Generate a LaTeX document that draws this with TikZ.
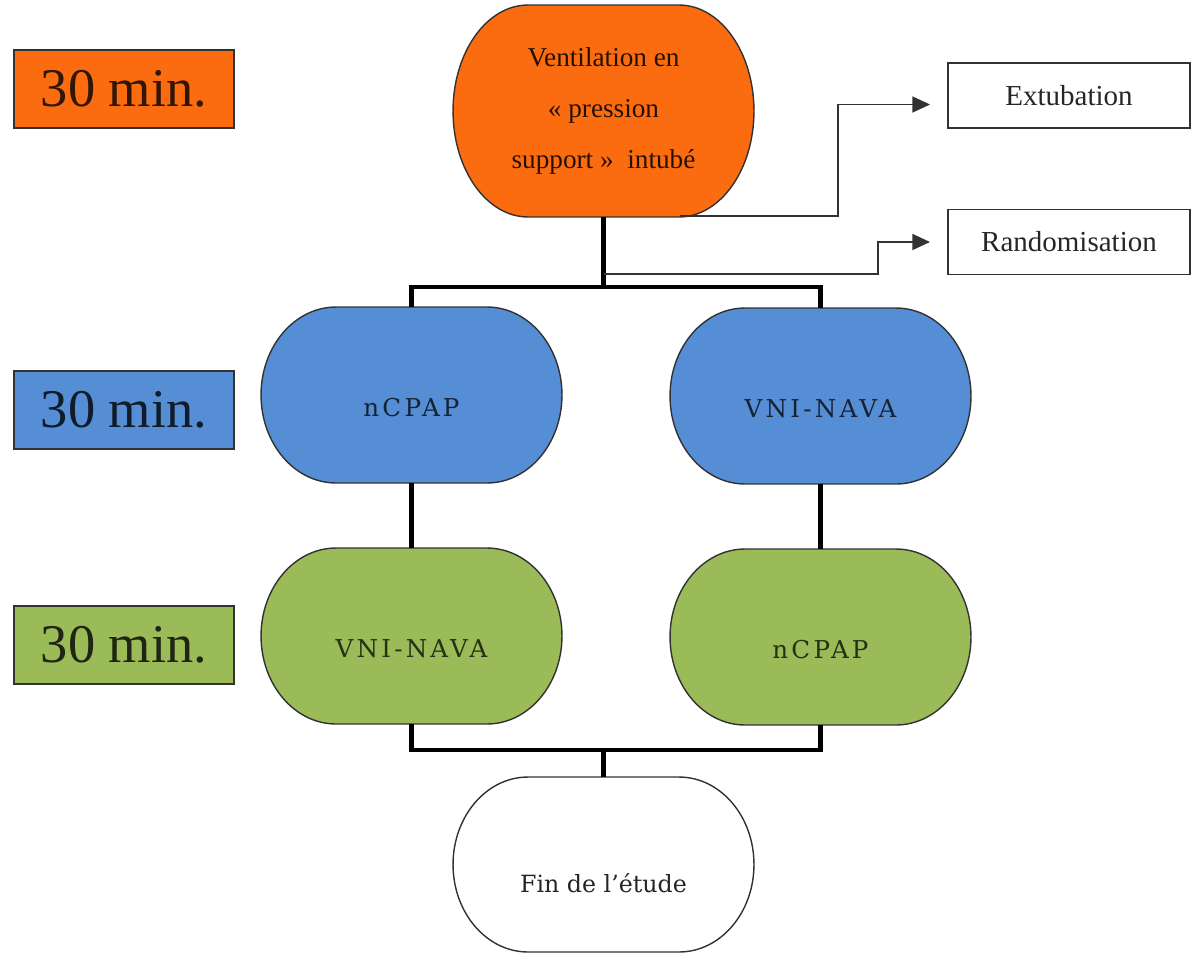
\documentclass[tikz,border=0pt]{standalone}
\usepackage{fontspec}
\setmainfont{Liberation Serif}
\newfontfamily\slabfont{DejaVu Serif}
\newfontfamily\slabwide[LetterSpace=13]{DejaVu Serif}
\usetikzlibrary{arrows.meta,backgrounds}
\definecolor{orangefill}{RGB}{250,108,15}
\definecolor{bluefill}{RGB}{85,142,213}
\definecolor{greenfill}{RGB}{155,187,89}
\definecolor{edgegray}{RGB}{50,50,50}
\newcommand\pillshape[4]{%
  \filldraw[fill=#4,draw=edgegray,line width=0.8pt]
   ([xshift=#2]#1.north west) -- ([xshift=-#2]#1.north east)
   arc[start angle=90,end angle=0,x radius=#2,y radius=#3]
   -- ([yshift=#3]#1.south east)
   arc[start angle=0,end angle=-90,x radius=#2,y radius=#3]
   -- ([xshift=#2]#1.south west)
   arc[start angle=270,end angle=180,x radius=#2,y radius=#3]
   -- ([yshift=-#3]#1.north west)
   arc[start angle=180,end angle=90,x radius=#2,y radius=#3]
   -- cycle;}
\begin{document}
\begin{tikzpicture}[x=0.02cm,y=-0.02cm,
  labelbox/.style={draw=edgegray,line width=0.8pt,minimum width=4.4cm,minimum height=1.56cm,
    inner sep=0pt,outer sep=0pt,font=\fontsize{31}{36}\selectfont},
  pillnode/.style={inner sep=0pt,outer sep=0pt,minimum width=6.02cm,minimum height=3.52cm,
    text height=25pt,text depth=0pt,font=\slabwide\fontsize{14}{16}\selectfont},
  topnode/.style={inner sep=0pt,outer sep=0pt,minimum width=6.02cm,minimum height=4.24cm,
    align=center,text=black!85!orangefill,font=\fontsize{15.5}{29}\selectfont},
  finnode/.style={inner sep=0pt,outer sep=0pt,minimum width=6.02cm,minimum height=3.5cm,
    text height=32pt,text depth=0pt,text=black!85,font=\slabfont\fontsize{13.5}{15}\selectfont},
  outbox/.style={draw=edgegray,line width=0.8pt,minimum width=4.84cm,minimum height=1.3cm,
    inner sep=0pt,outer sep=0pt,font=\fontsize{16.5}{20}\selectfont,text=black!85},
  tree/.style={line width=2.8pt,black,line join=miter},
  conn/.style={line width=1.1pt,draw=edgegray},
  arrowconn/.style={conn,-{Triangle[length=10pt,width=9pt]},shorten >=0.36cm}]
\useasboundingbox (0,0) rectangle (1192,954);

% time labels
\node[labelbox,fill=orangefill,text=black!80!orangefill] (lab1) at (124,89) {30 min.};
\node[labelbox,fill=bluefill,text=black!80!bluefill] (lab2) at (124,410) {30 min.};
\node[labelbox,fill=greenfill,text=black!80!greenfill] (lab3) at (124,645) {30 min.};

% main nodes
\node[topnode] (top) at (603.5,111) {Ventilation en\\« pression\\support »~ intubé};
\node[pillnode,text=black!75!bluefill] (b1) at (411.5,395) {nCPAP};
\node[pillnode,text=black!75!bluefill] (b2) at (820.5,396) {VNI-NAVA};
\node[pillnode,text=black!75!greenfill] (g1) at (411.5,636) {VNI-NAVA};
\node[pillnode,text=black!75!greenfill] (g2) at (820.5,637) {nCPAP};
\node[finnode] (fin) at (603.5,864.5) {Fin de l’étude};

\node[outbox] (ext) at (1069,95.5) {Extubation};
\node[outbox] (rand) at (1069,242) {Randomisation};

\begin{scope}[on background layer]
  \pillshape{top}{1.5cm}{2.12cm}{orangefill}
  \pillshape{b1}{1.5cm}{1.76cm}{bluefill}
  \pillshape{b2}{1.5cm}{1.76cm}{bluefill}
  \pillshape{g1}{1.5cm}{1.76cm}{greenfill}
  \pillshape{g2}{1.5cm}{1.76cm}{greenfill}
  \pillshape{fin}{1.5cm}{1.75cm}{white}
\end{scope}

% junctions
\coordinate (j1) at (603.5,287);
\coordinate (j2) at (603.5,750);
\coordinate (e0) at (680,216);
\coordinate (e1) at (838,216);
\coordinate (r0) at (603.5,274);
\coordinate (r1) at (878,274);

% tree connectors
\draw[tree] (top.south) -- (j1);
\draw[tree] (b1.north) |- (j1) -| (b2.north);
\draw[tree] (b1.south) -- (g1.north);
\draw[tree] (b2.south) -- (g2.north);
\draw[tree] (g1.south) |- (j2) -| (g2.south);
\draw[tree] (j2) -- (fin.north);

% side connectors
\draw[arrowconn] (e0) -- (e1) |- ([yshift=-0.18cm]ext.west);
\draw[arrowconn] (r0) -- (r1) |- (rand.west);
\end{tikzpicture}
\end{document}
